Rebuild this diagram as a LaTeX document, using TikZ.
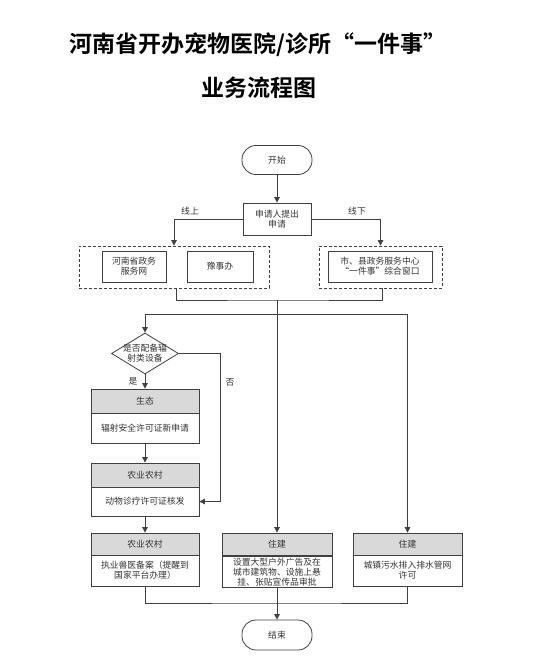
\documentclass[tikz,border=0pt]{standalone}
\usepackage{fontspec}
\setmainfont{Noto Sans CJK SC}[BoldFont={Noto Sans CJK SC Bold}]
\usetikzlibrary{arrows.meta,shapes.geometric}
\definecolor{lc}{HTML}{404040}
\definecolor{hd}{HTML}{D9D9D9}
\definecolor{tc}{HTML}{333333}
\begin{document}
\begin{tikzpicture}[x=1pt,y=-1pt,
 every node/.style={font=\fontsize{8.8}{10}\selectfont, text=tc, inner sep=0pt, align=center},
 ln/.style={draw=lc, line width=0.8pt},
 arr/.style={ln, -{Triangle[length=5.5pt,width=5.5pt]}},
 term/.style={ln, rounded corners=14pt, minimum width=70pt, minimum height=29pt},
 box/.style={ln, fill=white},
 hdr/.style={ln, fill=hd},
 dbox/.style={draw=lc, line width=0.8pt, dash pattern=on 3pt off 2pt},
 lbl/.style={font=\fontsize{8.8}{10}\selectfont}
]
\useasboundingbox (0,0) rectangle (546,663);
% title
\node[font=\fontsize{23}{26}\selectfont\bfseries, text=black] (t1) at (258,45) {河南省开办宠物医院/诊所“一件事”};
\node[font=\fontsize{23}{26}\selectfont\bfseries, text=black] (t2) at (259,88) {业务流程图};
% start
\node[term] (start) at (277,160) {开始};
\node[box, minimum width=68pt, minimum height=32pt] (apply) at (277,219) {申请人提出\\申请};
% online
\node[dbox, minimum width=190pt, minimum height=42pt] (dl) at (174,267) {};
\node[box, minimum width=64pt, minimum height=31pt] (zw) at (134,266.5) {河南省政务\\服务网};
\node[box, minimum width=66pt, minimum height=31pt] (ysb) at (220,266.5) {豫事办};
% offline
\node[dbox, minimum width=123pt, minimum height=42pt] (dr) at (380.5,267) {};
\node[box, minimum width=104pt, minimum height=31pt] (win) at (380,266.5) {市、县政务服务中心\\“一件事”综合窗口};
\draw[arr] (apply.west) -| (dl.north);
\draw[arr] (apply.east) -| (dr.north);
\node[lbl] (lon) at (190,211) {线上};
\node[lbl] (loff) at (357,211) {线下};
% merge
\coordinate (m) at (277,300);
\coordinate (s) at (277,314);
\draw[ln] ([xshift=2pt]dl.south) |- (m) -| ([xshift=1.5pt]dr.south);
% decision
\node[ln, diamond, minimum width=67pt, minimum height=41pt, fill=white] (dia) at (145,353.5) {};
\node (diat) at (145,353.5) {是否配备辐\\射类设备};
% left column
\node[hdr, minimum width=108pt, minimum height=24pt] (eh) at (145,401) {生态};
\node[box, minimum width=108pt, minimum height=30pt] (eb) at (145,428) {辐射安全许可证新申请};
\node[hdr, minimum width=108pt, minimum height=24pt] (nh) at (145,475) {农业农村};
\node[box, minimum width=108pt, minimum height=29pt] (nb) at (145,501.5) {动物诊疗许可证核发};
\node[hdr, minimum width=108pt, minimum height=22pt] (ah) at (145,544) {农业农村};
\node[box, minimum width=108pt, minimum height=31pt] (ab) at (145,570.5) {执业兽医备案（提醒到\\国家平台办理）};
% middle
\node[hdr, minimum width=110pt, minimum height=22pt] (bh) at (277,544) {住建};
\node[box, minimum width=110pt, minimum height=31pt] (bb) at (277,572) {设置大型户外广告及在\\城市建筑物、设施上悬\\挂、张贴宣传品审批};
% right
\node[hdr, minimum width=109pt, minimum height=22pt] (ch) at (407.5,544) {住建};
\node[box, minimum width=109pt, minimum height=31pt] (cb) at (407.5,570.5) {城镇污水排入排水管网\\许可};
% end
\node[term, minimum height=30pt] (end) at (277,635) {结束};
% connectors
\draw[arr] (start.south) -- (apply.north);
\draw[arr] (m) -- (bh.north);
\draw[arr] (s) -| (dia.north);
\draw[arr] (s) -| (ch.north);
\draw[arr] (dia.south) -- (eh.north);
\draw[arr] (eb.south) -- (nh.north);
\draw[arr] (nb.south) -- (ah.north);
\coordinate (n1) at (220,353.5);
\draw[arr] (dia.east) -- (n1) |- (nb.east);
\node[lbl] (yes) at (133,381) {是};
\node[lbl] (no) at (230,382) {否};
\coordinate (e) at (277,603);
\draw[ln] (ab.south) |- (e) -| (cb.south);
\draw[arr] (bb.south) -- (end.north);
\end{tikzpicture}
\end{document}
